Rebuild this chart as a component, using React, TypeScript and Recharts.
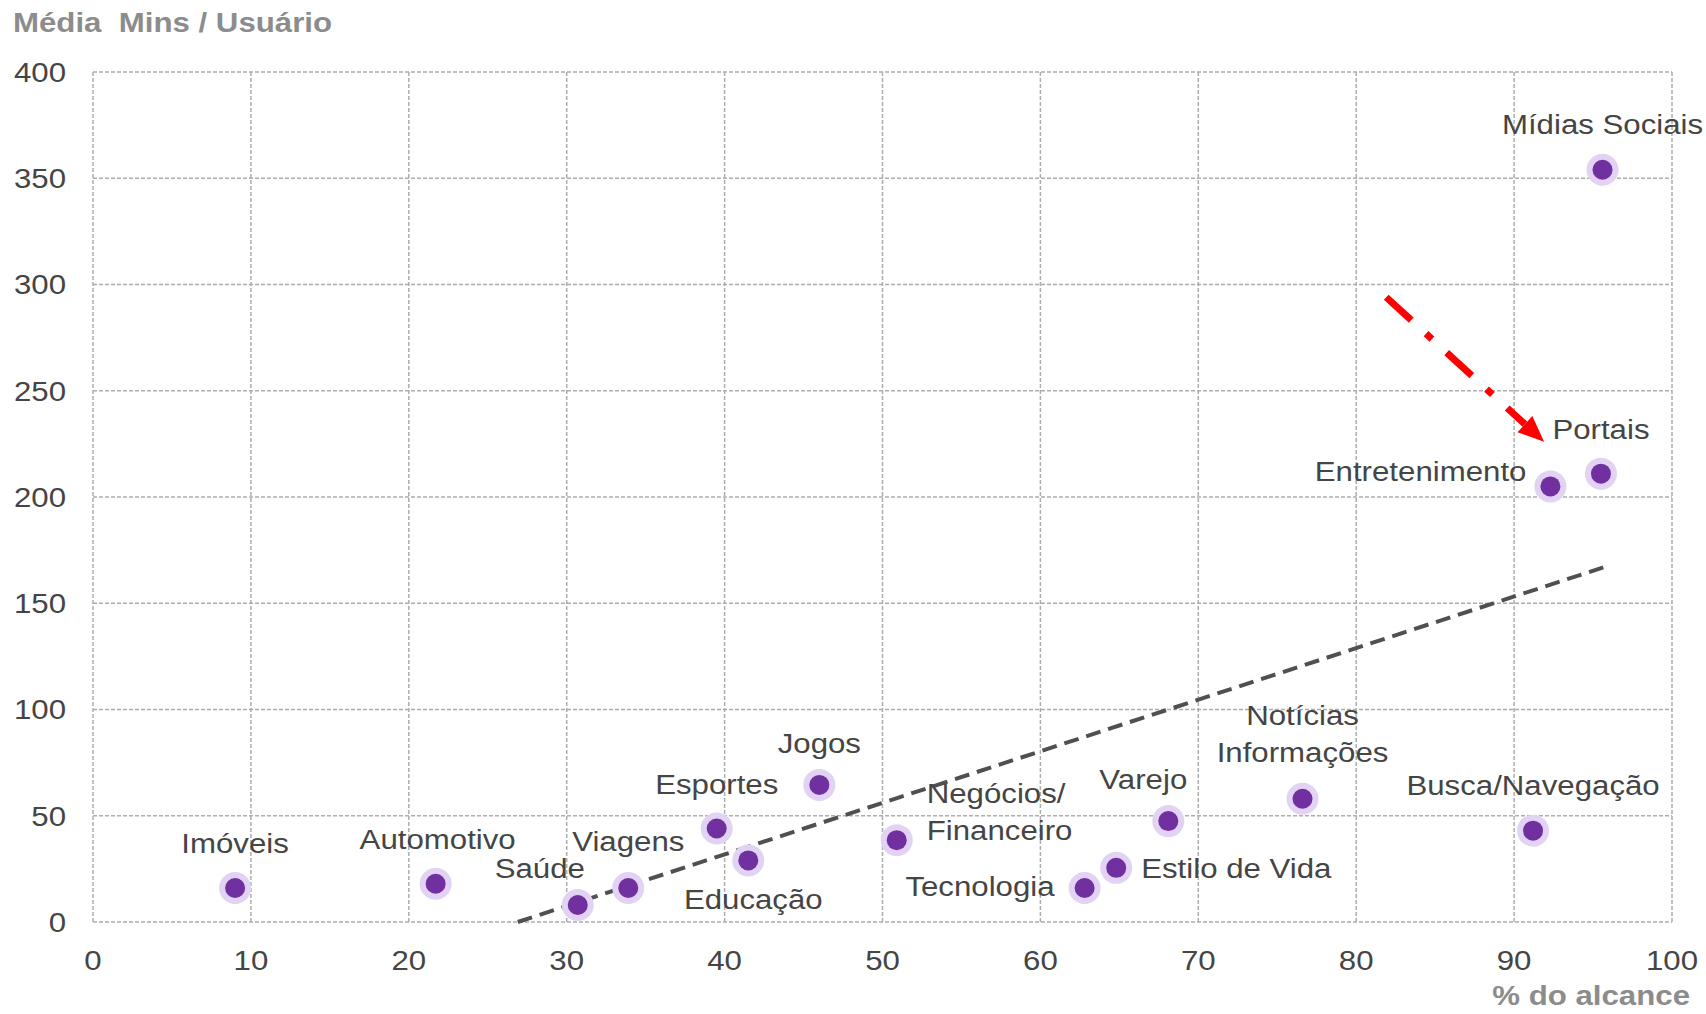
import { ScatterChart, Scatter, XAxis, YAxis, CartesianGrid, ReferenceLine } from 'recharts'

const categories = [
  'Imóveis', 'Automotivo', 'Saúde', 'Viagens', 'Esportes', 'Educação', 'Jogos',
  'Negócios/\nFinanceiro', 'Tecnologia', 'Estilo de Vida', 'Varejo',
  'Notícias\nInformações', 'Busca/Navegação', 'Entretenimento', 'Portais', 'Mídias Sociais',
]
const reach = [9.0, 21.7, 30.7, 33.9, 39.5, 41.5, 46.0, 50.9, 62.8, 64.8, 68.1, 76.6, 91.2, 92.3, 95.5, 95.6]
const minutes = [16, 18, 8, 16, 44, 29, 64.5, 38.5, 16, 25.5, 47.5, 58, 43, 205, 211, 354]

const xTicks = [0, 10, 20, 30, 40, 50, 60, 70, 80, 90, 100]
const yTicks = [0, 50, 100, 150, 200, 250, 300, 350, 400]

// trend line and highlight arrow, in data units
const trendFrom = { x: 26.9, y: 0 }
const trendTo = { x: 95.7, y: 167 }
const arrowFrom = { x: 81.9, y: 294 }
const arrowTo = { x: 91.9, y: 226 }

// label placement around each marker (px)
const LABEL_POS: Record<string, { anchor: 'start' | 'middle' | 'end'; dx: number; dy: number }> = {
  'Imóveis': { anchor: 'middle', dx: 0, dy: -45 },
  'Automotivo': { anchor: 'middle', dx: 2, dy: -45 },
  'Saúde': { anchor: 'middle', dx: -38, dy: -37 },
  'Viagens': { anchor: 'middle', dx: 0, dy: -47 },
  'Esportes': { anchor: 'middle', dx: 0, dy: -45 },
  'Educação': { anchor: 'middle', dx: 5, dy: 38 },
  'Jogos': { anchor: 'middle', dx: 0, dy: -42 },
  'Negócios/\nFinanceiro': { anchor: 'start', dx: 30, dy: -48 },
  'Tecnologia': { anchor: 'end', dx: -30, dy: -2 },
  'Estilo de Vida': { anchor: 'start', dx: 25, dy: 0 },
  'Varejo': { anchor: 'middle', dx: -25, dy: -42 },
  'Notícias\nInformações': { anchor: 'middle', dx: 0, dy: -84 },
  'Busca/Navegação': { anchor: 'middle', dx: 0, dy: -46 },
  'Entretenimento': { anchor: 'end', dx: -24, dy: -16 },
  'Portais': { anchor: 'middle', dx: 0, dy: -45 },
  'Mídias Sociais': { anchor: 'middle', dx: 0, dy: -46 },
}

const data = categories.map((name, i) => ({ name, x: reach[i], y: minutes[i] }))

const FONT = '"Liberation Sans", Arial, sans-serif'
const STRETCH = 1.115 // the original text is a bit wider than Arial

function Dot(props: any) {
  const { cx, cy, payload } = props
  const pos = LABEL_POS[payload.name]
  const lines = String(payload.name).split('\n')
  return (
    <g>
      <circle cx={cx} cy={cy} r={16} fill="#e2d2f3" />
      <circle cx={cx} cy={cy} r={10} fill="#7030a0" />
      <text
        transform={`translate(${cx + pos.dx} ${cy + pos.dy}) scale(${STRETCH} 1)`}
        textAnchor={pos.anchor}
        dominantBaseline="central"
        fontFamily={FONT}
        fontSize={28}
        fill="#454545"
      >
        {lines.map((l, i) => (
          <tspan key={i} x={0} dy={i === 0 ? 0 : 37}>{l}</tspan>
        ))}
      </text>
    </g>
  )
}

function XTick(props: any) {
  const { x, y, payload } = props
  return (
    <text transform={`translate(${x} ${y}) scale(${STRETCH} 1)`} textAnchor="middle" dy="0.71em" fontFamily={FONT} fontSize={28} fill="#454545">
      {payload.value}
    </text>
  )
}

function YTick(props: any) {
  const { x, y, payload } = props
  return (
    <text transform={`translate(${x} ${y}) scale(${STRETCH} 1)`} textAnchor="end" dy="0.355em" fontFamily={FONT} fontSize={28} fill="#454545">
      {payload.value}
    </text>
  )
}

function Arrow(props: any) {
  const { x1, y1, x2, y2 } = props
  if ([x1, y1, x2, y2].some((v) => v == null || isNaN(v))) return null
  const ang = Math.atan2(y2 - y1, x2 - x1)
  const head = 26
  const bx = x2 - head * Math.cos(ang)
  const by = y2 - head * Math.sin(ang)
  const w = 11
  const px = -Math.sin(ang) * w
  const py = Math.cos(ang) * w
  return (
    <g>
      <line x1={x1} y1={y1} x2={bx} y2={by} stroke="#ff0000" strokeWidth={7} strokeDasharray="34 20 8 20" />
      <polygon points={`${x2},${y2} ${bx + px},${by + py} ${bx - px},${by - py}`} fill="#ff0000" />
    </g>
  )
}

export default function App() {
  return (
    <div style={{ position: 'absolute', left: 0, top: 0, width: 1706, height: 1014, background: '#fff' }}>
      <ScatterChart width={1706} height={1014} margin={{ top: 72, right: 34, bottom: 0, left: 0 }}>
        <CartesianGrid stroke="#adadad" strokeWidth={1.5} strokeDasharray="4 2" />
        <XAxis
          type="number"
          dataKey="x"
          domain={[0, 100]}
          ticks={xTicks}
          axisLine={false}
          tickLine={false}
          tickSize={0}
          tickMargin={28}
          height={92}
          tick={<XTick />}
          interval={0}
        />
        <YAxis
          type="number"
          dataKey="y"
          domain={[0, 400]}
          ticks={yTicks}
          axisLine={false}
          tickLine={false}
          tickSize={0}
          tickMargin={27}
          width={93}
          tick={<YTick />}
          interval={0}
        />
        <ReferenceLine
          segment={[trendFrom, trendTo]}
          stroke="#505050"
          strokeWidth={4}
          strokeDasharray="15 8"
          ifOverflow="visible"
        />
        <Scatter data={data} shape={<Dot />} isAnimationActive={false} />
        <ReferenceLine segment={[arrowFrom, arrowTo]} shape={<Arrow />} ifOverflow="visible" />
        <text transform={`translate(13 32) scale(${STRETCH} 1)`} fontFamily={FONT} fontWeight="bold" fontSize={28} fill="#8c8c8c" style={{ whiteSpace: 'pre' }}>
          Média  Mins / Usuário
        </text>
        <text transform={`translate(1690 1005) scale(${STRETCH} 1)`} textAnchor="end" fontFamily={FONT} fontWeight="bold" fontSize={28} fill="#8c8c8c">
          % do alcance
        </text>
      </ScatterChart>
    </div>
  )
}
